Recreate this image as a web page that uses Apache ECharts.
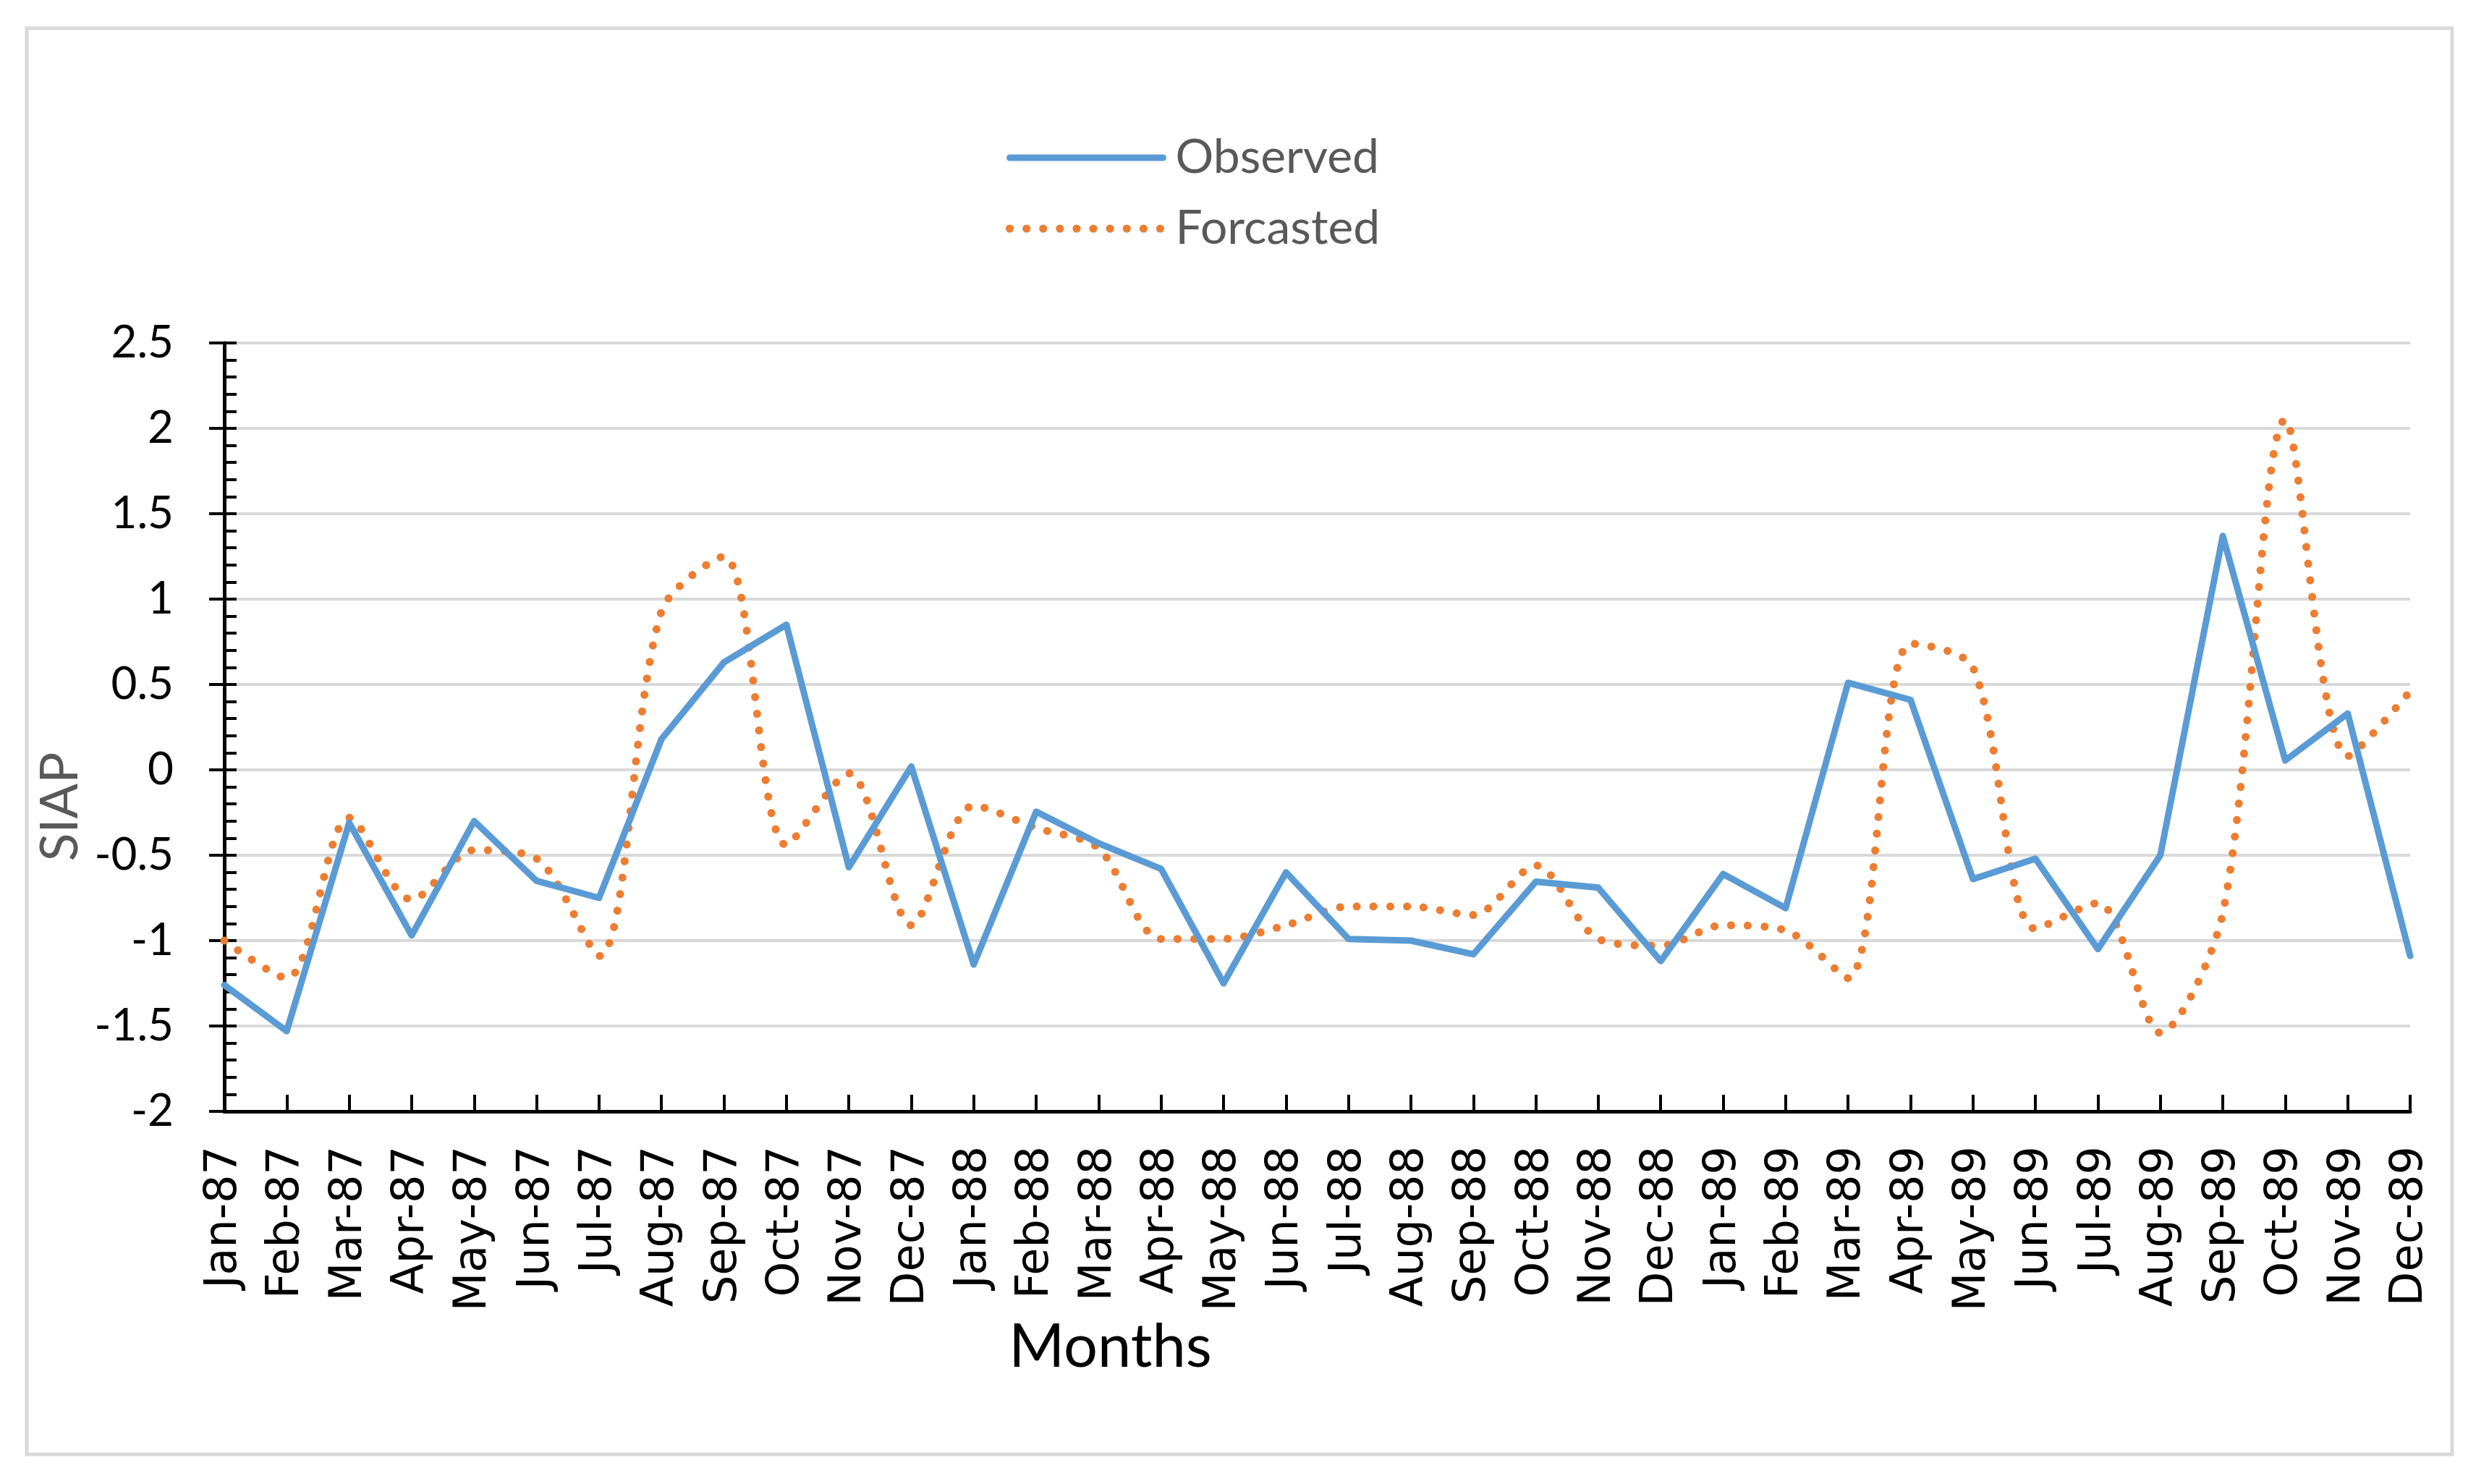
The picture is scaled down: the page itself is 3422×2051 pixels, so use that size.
<!DOCTYPE html>
<html>
<head>
    <meta charset="utf-8">
    <title>SIAP observed vs forcasted</title>
    <script src="https://cdn.jsdelivr.net/npm/echarts@6/dist/echarts.min.js"></script>
    <style>
        html, body { margin: 0; padding: 0; background: #fff; }
    </style>
</head>
<body>
    <div id="main" style="width: 3422px;height:2051px;"></div>
    <script type="text/javascript">
        // month labels on the x axis
        var months = [
            'Jan-87', 'Feb-87', 'Mar-87', 'Apr-87', 'May-87', 'Jun-87',
            'Jul-87', 'Aug-87', 'Sep-87', 'Oct-87', 'Nov-87', 'Dec-87',
            'Jan-88', 'Feb-88', 'Mar-88', 'Apr-88', 'May-88', 'Jun-88',
            'Jul-88', 'Aug-88', 'Sep-88', 'Oct-88', 'Nov-88', 'Dec-88',
            'Jan-89', 'Feb-89', 'Mar-89', 'Apr-89', 'May-89', 'Jun-89',
            'Jul-89', 'Aug-89', 'Sep-89', 'Oct-89', 'Nov-89', 'Dec-89'
        ];

        // values
        var observed = [
            -1.26, -1.53, -0.31, -0.97, -0.30, -0.65, -0.75, 0.18, 0.63, 0.85, -0.57, 0.02,
            -1.14, -0.245, -0.43, -0.58, -1.25, -0.60, -0.99, -1.00, -1.08, -0.655, -0.69, -1.12,
            -0.61, -0.81, 0.51, 0.41, -0.64, -0.52, -1.05, -0.50, 1.37, 0.055, 0.33, -1.09
        ];
        var forcasted = [
            -1.00, -1.22, -0.28, -0.76, -0.47, -0.52, -1.09, 0.93, 1.25, -0.44, -0.02, -0.91,
            -0.21, -0.34, -0.46, -0.99, -0.99, -0.91, -0.80, -0.80, -0.85, -0.56, -0.99, -1.03,
            -0.91, -0.94, -1.22, 0.74, 0.60, -0.93, -0.78, -1.54, -0.84, 2.05, 0.08, 0.46
        ];

        var yMin = -2, yMax = 2.5, yStep = 0.5;

        var myChart = echarts.init(document.getElementById('main'));

        var option = {
            animation: false,
            backgroundColor: '#fff',
            graphic: [{
                type: 'rect',
                shape: { x: 37, y: 39, width: 3352, height: 1971 },
                style: { fill: 'none', stroke: '#d9d9d9', lineWidth: 5 },
                silent: true
            }],
            legend: {
                orient: 'vertical',
                left: 1390,
                top: 178,
                icon: 'inherit',
                itemWidth: 212,
                itemHeight: 20,
                itemGap: 18,
                padding: 0,
                itemStyle: { opacity: 0 },
                lineStyle: { width: 'inherit' },
                textStyle: {
                    fontFamily: 'Lato',
                    fontSize: 66,
                    color: '#595959',
                    lineHeight: 80,
                    padding: [0, 0, 0, 12]
                },
                data: ['Observed', 'Forcasted']
            },
            grid: {
                left: 310,
                right: 91,
                top: 474,
                bottom: 515
            },
            xAxis: {
                type: 'category',
                data: months,
                boundaryGap: false,
                name: 'Months',
                nameLocation: 'middle',
                nameGap: 282,
                nameTextStyle: {
                    fontFamily: 'Lato',
                    fontSize: 83,
                    color: '#000',
                    padding: [0, 572, 0, 0]
                },
                axisLine: { onZero: false, lineStyle: { color: '#000', width: 5 } },
                axisTick: { show: true, inside: true, interval: 0, length: 23, lineStyle: { color: '#000', width: 4 } },
                axisLabel: {
                    interval: 0,
                    rotate: 90,
                    margin: 48,
                    fontFamily: 'DejaVu Sans',
                    fontSize: 62,
                    color: '#000'
                },
                splitLine: { show: false }
            },
            yAxis: [{
                type: 'value',
                min: yMin,
                max: yMax,
                interval: yStep,
                name: 'SIAP',
                nameLocation: 'middle',
                nameGap: 165,
                nameTextStyle: {
                    fontFamily: 'Lato',
                    fontSize: 72,
                    color: '#595959',
                    padding: [0, 220, 0, 0]
                },
                axisLine: { show: true, lineStyle: { color: '#000', width: 5 } },
                axisTick: { show: true, inside: false, length: 21, lineStyle: { color: '#000', width: 4 } },
                axisLabel: {
                    margin: 70,
                    fontFamily: 'Lato',
                    fontSize: 62,
                    color: '#000'
                },
                splitLine: { show: true, lineStyle: { color: '#d9d9d9', width: 4 } }
            }, {
                // second copy of the axis only for the inner major and minor ticks
                type: 'value',
                min: yMin,
                max: yMax,
                interval: yStep,
                position: 'left',
                axisLine: { show: false },
                axisLabel: { show: false },
                splitLine: { show: false },
                axisTick: { show: true, inside: true, length: 17, lineStyle: { color: '#000', width: 4 } },
                minorTick: { show: true, splitNumber: 5, length: 17, lineStyle: { color: '#000', width: 4 } }
            }],
            series: [{
                name: 'Observed',
                type: 'line',
                data: observed,
                symbol: 'none',
                color: '#5B9BD5',
                lineStyle: { color: '#5B9BD5', width: 9, cap: 'round', join: 'round' },
                z: 3
            }, {
                name: 'Forcasted',
                type: 'line',
                data: forcasted,
                symbol: 'none',
                smooth: 0.3,
                color: '#ED7D31',
                lineStyle: { color: '#ED7D31', width: 11, type: [0.1, 23], cap: 'round' },
                z: 2
            }]
        };

        myChart.setOption(option);
    </script>
</body>
</html>
